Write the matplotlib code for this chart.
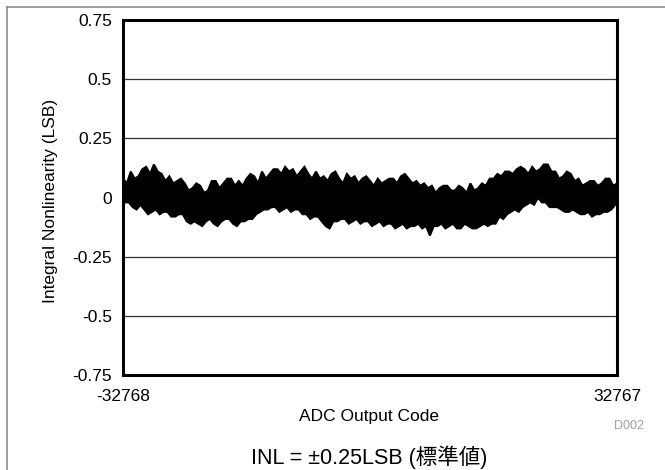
import matplotlib
matplotlib.use("Agg")
import matplotlib.pyplot as plt
from matplotlib.lines import Line2D
import numpy as np

plt.rcParams["font.family"] = ["Liberation Sans", "Noto Sans CJK JP"]

# INL envelope (LSB) sampled every 512 codes across the full 16-bit range;
# the lower edge is read half a step later than the upper edge
codes_upper = np.linspace(-32768, 32767, 129)
codes_lower = np.r_[-32768, np.linspace(-32512, 32511, 128)]
inl_upper = [0.08, 0.06, 0.11, 0.08, 0.09, 0.12, 0.13, 0.10, 0.14, 0.11,
             0.10, 0.07, 0.09, 0.06, 0.07, 0.08, 0.06, 0.03, 0.04, 0.06,
             0.05, 0.02, 0.03, 0.07, 0.07, 0.04, 0.06, 0.08, 0.08, 0.05,
             0.07, 0.05, 0.08, 0.10, 0.09, 0.06, 0.11, 0.08, 0.10, 0.12,
             0.12, 0.10, 0.13, 0.11, 0.12, 0.09, 0.11, 0.13, 0.10, 0.08,
             0.11, 0.08, 0.09, 0.07, 0.10, 0.11, 0.08, 0.06, 0.10, 0.08,
             0.09, 0.06, 0.08, 0.09, 0.07, 0.05, 0.08, 0.06, 0.07, 0.08,
             0.08, 0.06, 0.09, 0.10, 0.08, 0.06, 0.07, 0.05, 0.06, 0.04,
             0.05, 0.02, 0.04, 0.05, 0.05, 0.03, 0.03, 0.05, 0.04, 0.02,
             0.06, 0.03, 0.04, 0.06, 0.05, 0.08, 0.08, 0.10, 0.09, 0.11,
             0.11, 0.10, 0.12, 0.13, 0.12, 0.10, 0.13, 0.11, 0.12, 0.14,
             0.14, 0.11, 0.11, 0.08, 0.09, 0.11, 0.10, 0.07, 0.08, 0.05,
             0.06, 0.07, 0.07, 0.05, 0.06, 0.08, 0.08, 0.05, 0.06]
inl_lower = [-0.01, -0.02, -0.02, -0.04, -0.05, -0.03, -0.05, -0.07, -0.06, -0.05,
             -0.07, -0.06, -0.06, -0.08, -0.08, -0.07, -0.07, -0.10, -0.11, -0.10,
             -0.11, -0.12, -0.10, -0.09, -0.11, -0.12, -0.10, -0.09, -0.09, -0.11,
             -0.12, -0.10, -0.10, -0.09, -0.09, -0.07, -0.06, -0.05, -0.05, -0.04,
             -0.04, -0.06, -0.05, -0.04, -0.06, -0.05, -0.05, -0.07, -0.07, -0.09,
             -0.08, -0.08, -0.10, -0.12, -0.13, -0.10, -0.10, -0.09, -0.09, -0.11,
             -0.10, -0.09, -0.11, -0.10, -0.10, -0.12, -0.11, -0.10, -0.12, -0.11,
             -0.11, -0.13, -0.12, -0.11, -0.13, -0.12, -0.12, -0.11, -0.13, -0.12,
             -0.16, -0.12, -0.12, -0.11, -0.13, -0.12, -0.11, -0.13, -0.13, -0.11,
             -0.12, -0.13, -0.13, -0.12, -0.11, -0.12, -0.11, -0.11, -0.08, -0.09,
             -0.07, -0.06, -0.05, -0.06, -0.04, -0.03, -0.02, -0.03, 0.00, -0.02,
             -0.02, -0.04, -0.04, -0.04, -0.05, -0.06, -0.06, -0.05, -0.06, -0.07,
             -0.07, -0.06, -0.08, -0.07, -0.07, -0.06, -0.06, -0.05, -0.03]

yticks = [-0.75, -0.5, -0.25, 0, 0.25, 0.5, 0.75]
ytick_labels = ["-0.75", "-0.5", "-0.25", "0", "0.25", "0.5", "0.75"]
xticks = [-32768, 32767]

fig = plt.figure(figsize=(6.65, 4.70), dpi=100)
ax = fig.add_axes([0.185, 0.202, 0.743, 0.755])

# outer gray frame (top and left edges)
fig.add_artist(Line2D([7/665, 1], [1-7/470, 1-7/470], color="#8c8c8c", lw=1.2))
fig.add_artist(Line2D([7/665, 7/665], [0, 1-7/470], color="#8c8c8c", lw=1.2))

for g in [-0.5, -0.25, 0.25, 0.5]:
    ax.axhline(g, color="#333333", lw=0.9, zorder=1)

poly_x = np.r_[codes_upper, codes_lower[::-1]]
poly_y = np.r_[inl_upper, inl_lower[::-1]]
ax.fill(poly_x, poly_y, color="black", lw=1.5, zorder=2)

ax.set_xlim(-32768, 32767)
ax.set_ylim(-0.75, 0.75)
ax.set_yticks(yticks)
ax.set_yticklabels(ytick_labels)
ax.set_xticks(xticks)
ax.set_xticklabels(["-32768", "32767"])
ax.tick_params(length=0, labelsize=12.5)
ax.tick_params(axis="y", pad=8)
ax.tick_params(axis="x", pad=10)
for s in ax.spines.values():
    s.set_linewidth(2.2)
    s.set_zorder(3)

ax.set_xlabel("ADC Output Code", fontsize=12.5, va="center")
ax.xaxis.set_label_coords(0.498, -0.118)
ax.set_ylabel("Integral Nonlinearity (LSB)", fontsize=12.5, va="center")
ax.yaxis.set_label_coords(-0.146, 0.49)

fig.text(644/665, 1-426/470, "D002", color="#a0a0a0", fontsize=9, ha="right", va="center")
fig.text(369/665, 1-457/470, "INL = ±0.25LSB (標準値)", fontsize=15.5, ha="center", va="center")

fig.savefig("out.png", dpi=100)
